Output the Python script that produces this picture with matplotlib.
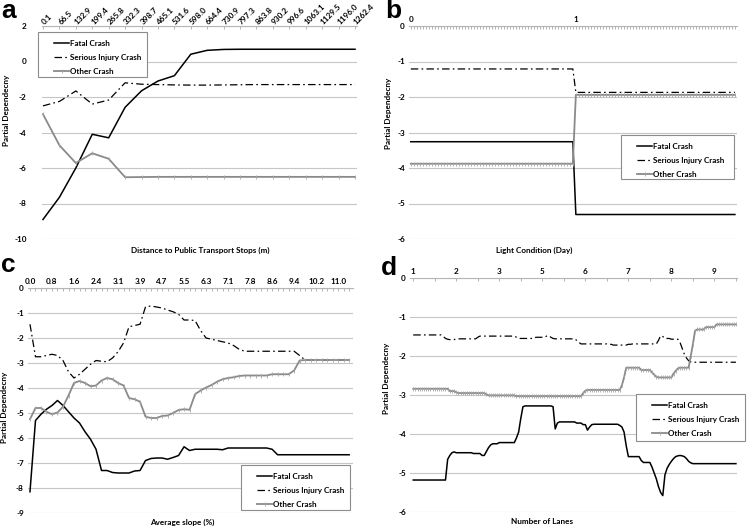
import matplotlib.pyplot as plt
from matplotlib.patches import Rectangle
from matplotlib.lines import Line2D

W, H = 747, 527

# ---- data ----
# a: distance to public transport stops
dist_labels = ['0.1', '66.5', '132.9', '199.4', '265.8', '332.3', '398.7', '465.1', '531.6', '598.0',
               '664.4', '730.9', '797.3', '863.8', '930.2', '996.6', '1063.1', '1129.5', '1196.0', '1262.4']
a_fatal = [-8.9, -7.65, -6.0, -4.1, -4.3, -2.58, -1.65, -1.1, -0.8, 0.41,
           0.63, 0.68, 0.69, 0.69, 0.69, 0.69, 0.69, 0.69, 0.69, 0.69]
a_serious = [-2.5, -2.25, -1.66, -2.4, -2.17, -1.2, -1.28, -1.3, -1.32, -1.33,
             -1.33, -1.32, -1.31, -1.3, -1.3, -1.3, -1.3, -1.3, -1.3, -1.3]
a_other = [-2.97, -4.72, -5.72, -5.17, -5.48, -6.52, -6.51, -6.5, -6.5, -6.5,
           -6.5, -6.5, -6.5, -6.5, -6.5, -6.5, -6.5, -6.5, -6.5, -6.5]

# b: light condition (55 points at "0", 54 at "1")
light_labels = ['0', '1']
b_fatal = [-3.26] * 55 + [-5.31] * 54
b_serious = [-1.21] * 55 + [-1.87] * 54
b_other = [-3.88] * 55 + [-1.94] * 54

# c: average slope
slope_labels = ['0.0', '0.8', '1.6', '2.4', '3.1', '3.9', '4.7', '5.5', '6.3', '7.1',
                '7.8', '8.6', '9.4', '10.2', '11.0']
c_fatal = [-8.15, -5.3, -5.05, -4.85, -4.7, -4.5, -4.7, -4.95, -5.2, -5.4,
           -5.75, -6.05, -6.45, -7.3, -7.3, -7.38, -7.4, -7.4, -7.4, -7.32,
           -7.3, -6.9, -6.82, -6.8, -6.8, -6.85, -6.78, -6.7, -6.35, -6.5,
           -6.45, -6.45, -6.45, -6.45, -6.45, -6.47, -6.4] + [-6.4] * 7 + [-6.45] + [-6.67] * 14
c_serious = [-1.45, -2.75, -2.75, -2.7, -2.65, -2.7, -2.9, -3.35, -3.6, -3.45,
             -3.25, -3.05, -2.9, -2.93, -2.95, -2.8, -2.55, -2.2, -1.55, -1.5,
             -1.45, -0.75, -0.72, -0.76, -0.8, -0.88, -0.95, -1.05, -1.28, -1.28,
             -1.3, -1.7, -2.0, -2.05, -2.1, -2.15, -2.2, -2.3, -2.45] + [-2.53] * 10 + [-2.7] + [-2.88] * 9
c_other = [-5.25, -4.8, -4.8, -4.95, -5.05, -4.98, -4.75, -4.3, -3.8, -3.72,
           -3.8, -3.93, -3.9, -3.7, -3.6, -3.65, -3.8, -3.9, -4.4, -4.45,
           -4.55, -5.15, -5.2, -5.2, -5.12, -5.1, -5.0, -4.88, -4.85, -4.87,
           -4.25, -4.1, -3.98, -3.88, -3.75, -3.65, -3.6, -3.57, -3.52] + [-3.5] * 5 + [-3.45] * 4 + [-3.3, -2.9] + [-2.88] * 9

# d: number of lanes
lane_labels = ['1', '2', '3', '5', '6', '7', '8', '9']
d_fatal = ([-5.18] * 16 + [-4.65, -4.55, -4.48, -4.46] + [-4.48] * 8 + [-4.5] * 4 + [-4.55] * 2
           + [-4.45, -4.35, -4.28] + [-4.25] * 3 + [-4.22] * 8 + [-4.1, -3.95, -3.6, -3.3]
           + [-3.28] * 13 + [-3.3, -3.87, -3.72] + [-3.69] * 8 + [-3.72] * 3 + [-3.76] * 2
           + [-3.9, -3.82, -3.76] + [-3.75] * 12 + [-3.78, -3.82, -3.95, -4.3] + [-4.58] * 6
           + [-4.68] + [-4.73] * 4 + [-4.85, -5.0, -5.15, -5.35, -5.5, -5.58]
           + [-5.05, -4.88, -4.78, -4.7, -4.63, -4.58, -4.56, -4.55, -4.56, -4.58, -4.63, -4.7, -4.74]
           + [-4.76] * 21)
d_serious = ([-1.46] * 14 + [-1.5, -1.55, -1.57] + [-1.58] * 3 + [-1.56] * 10 + [-1.52, -1.49]
             + [-1.49] * 16 + [-1.52, -1.55] + [-1.55] * 7 + [-1.52] * 5 + [-1.49, -1.48, -1.52, -1.55]
             + [-1.56] * 10 + [-1.6, -1.65] + [-1.69] * 13 + [-1.7] * 2 + [-1.72] * 7 + [-1.7] * 2
             + [-1.69] * 12 + [-1.6, -1.48, -1.5] + [-1.55] * 3 + [-1.57] * 4
             + [-1.65, -1.8, -1.95, -2.05, -2.12, -2.15] + [-2.16] * 21)
d_other = ([-2.84] * 17 + [-2.9] * 3 + [-2.93] + [-2.95] * 13 + [-2.98] + [-3.01] * 13
           + [-3.03] * 31 + [-2.95, -2.89] + [-2.87] * 16 + [-2.75, -2.55, -2.3] + [-2.3] * 6
           + [-2.36] * 5 + [-2.42, -2.48, -2.53] + [-2.55] * 7 + [-2.45, -2.38, -2.32] + [-2.3] * 5
           + [-2.0, -1.7, -1.35] + [-1.32] * 4 + [-1.26] * 5 + [-1.19] * 10)

names = ['Fatal Crash', 'Serious Injury Crash', 'Other Crash']

# ---- styles ----
plt.rcParams['font.family'] = ['Lato', 'DejaVu Sans']
FS = 5.9
LFS = 5.8
FATAL = dict(color='black', lw=1.1)
SERIOUS = dict(color='black', lw=0.9, dashes=(6, 2.6, 1.3, 2.6))
OTHER = dict(color='#8a8a8a', lw=1.3, marker='|', ms=2.6, mew=0.6, mec='#a5a5a5')
GRID = '#c6c6c6'


def fbox(l, t, r, b):
    return [l / W, 1 - b / H, (r - l) / W, (b - t) / H]


def panel(fig, rect, series, ylim, ystep, xlim, label_pos, labels, minor_pos, ypad, rot=0):
    ax = fig.add_axes(fbox(*rect))
    x = list(range(len(series[0])))
    ax.plot(x, series[0], **FATAL)
    ax.plot(x, series[1], **SERIOUS)
    ax.plot(x, series[2], **OTHER)
    ax.set_xlim(*xlim)
    ax.set_ylim(*ylim)
    yt = []
    v = ylim[0]
    while v <= ylim[1] + 1e-9:
        yt.append(v)
        v += ystep
    ax.set_yticks(yt)
    ax.set_yticklabels([str(int(t)) for t in yt], fontweight='bold', fontsize=FS)
    ax.grid(axis='y', color=GRID, lw=0.8)
    ax.set_axisbelow(True)
    for s in ['left', 'right', 'bottom']:
        ax.spines[s].set_visible(False)
    ax.spines['top'].set_color('#b5b5b5')
    ax.spines['top'].set_linewidth(0.8)
    ax.xaxis.tick_top()
    ax.set_xticks(label_pos)
    if rot:
        ax.set_xticklabels(labels, rotation=rot, ha='left', va='center',
                           rotation_mode='anchor', fontweight='bold', fontsize=FS)
    else:
        ax.set_xticklabels(labels, fontweight='bold', fontsize=FS)
    ax.set_xticks(minor_pos, minor=True)
    ax.tick_params(axis='x', which='both', direction='in', length=2.2, width=0.6,
                   color='#a8a8a8', pad=2)
    ax.tick_params(axis='y', length=0, pad=ypad)
    return ax


def legend(fig, l, t, r, b):
    fig.patches.append(Rectangle((l / W, 1 - b / H), (r - l) / W, (b - t) / H,
                                 transform=fig.transFigure, facecolor='white',
                                 edgecolor='#8c8c8c', lw=0.8, zorder=3))
    handles = [Line2D([], [], **FATAL), Line2D([], [], **SERIOUS), Line2D([], [], **OTHER)]
    fig.legend(handles, names, loc='upper left', bbox_to_anchor=((l + 9) / W, 1 - (t + 1) / H),
               frameon=False, handlelength=1.9, handletextpad=0.1,
               labelspacing=0.85, borderpad=0.35, numpoints=1,
               prop={'weight': 'bold', 'size': LFS})


fig = plt.figure(figsize=(W / 100, H / 100), dpi=100)

# a
panel(fig, (42, 26, 357, 239), [a_fatal, a_serious, a_other], (-10, 2), 2,
      (-0.06, 19.12), list(range(20)), dist_labels, list(range(20)), 11, rot=45)
legend(fig, 38, 32, 147, 77)

# b
panel(fig, (409, 26, 737, 239), [b_fatal, b_serious, b_other], (-6, 0), 1,
      (-0.6, 108.7), [0, 55], light_labels, list(range(109)), 3)
legend(fig, 621, 135, 734, 179)

# c
panel(fig, (28, 288, 353, 513), [c_fatal, c_serious, c_other], (-9, 0), 1,
      (-0.36, 58.7), list(range(0, 57, 4)), slope_labels, list(range(59)), 3)
legend(fig, 241, 465, 350, 510)

# d
panel(fig, (410, 278, 737, 512), [d_fatal, d_serious, d_other], (-6, 0), 1,
      (-1.5, 150.5), list(range(0, 141, 20)), lane_labels, list(range(0, 151, 10)), 3)
legend(fig, 636, 394, 745, 441)

# axis titles
ylab = 'Partial Dependecny'
for (x, y) in [(7, 110), (389, 113), (5, 407), (387, 378)]:
    fig.text(x / W, 1 - y / H, ylab, rotation=90, ha='center', va='center',
             fontsize=FS, fontweight='bold')
for (x, y, s) in [(200, 250, 'Distance to Public Transport Stops (m)'),
                  (534, 250, 'Light Condition (Day)'),
                  (182, 522, 'Average slope (%)'),
                  (542, 522, 'Number of Lanes')]:
    fig.text(x / W, 1 - y / H, s, ha='center', va='center', fontsize=FS, fontweight='bold')

# panel letters
for (x, y, s) in [(1, 18, 'a'), (385, 18, 'b'), (1, 272, 'c'), (381, 275, 'd')]:
    fig.text(x / W, 1 - y / H, s, ha='left', va='baseline', fontsize=19,
             fontweight='bold', family='Liberation Sans')

fig.savefig('out.png', dpi=100)
